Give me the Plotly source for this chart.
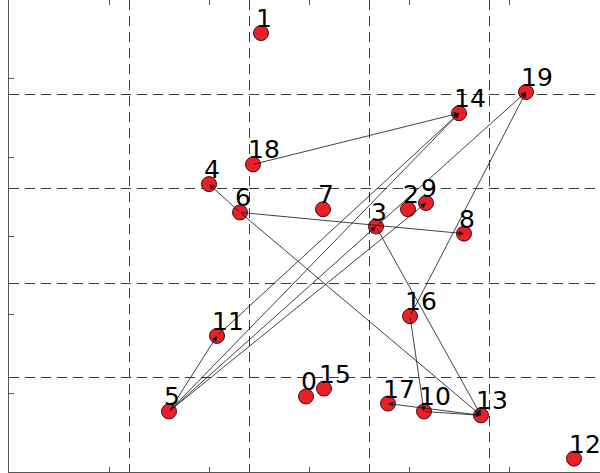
import plotly.graph_objects as go

# Node positions (id -> x, y)
node_ids = list(range(20))
node_x = [2.97, 2.52, 3.99, 3.67, 2.00, 1.60, 2.31, 3.14, 4.55, 4.17,
          4.15, 2.08, 5.65, 4.72, 4.50, 3.15, 4.01, 3.79, 2.44, 5.17]
node_y = [0.96, 5.58, 3.34, 3.12, 3.66, 0.77, 3.30, 3.34, 3.03, 3.42,
          0.77, 1.73, 0.17, 0.72, 4.56, 1.06, 1.98, 0.87, 3.91, 4.83]

# Directed edges (source -> target)
edge_src = [18, 6, 6, 6, 3, 5, 11, 5, 5, 3, 5, 16, 16, 10, 13]
edge_dst = [14, 4, 8, 13, 13, 11, 14, 14, 3, 19, 9, 19, 10, 13, 17]

# Axis ticks and the coarser dashed grid
tick_vals = [0, 1, 2, 3, 4, 5, 6]
grid_step = 1.2
x_range = [0, 5.91]
y_range = [0, 6]

AXIS_COLOR = "#555555"
GRID_COLOR = "#3c3c3c"
NODE_COLOR = "#ea1f27"
EDGE_COLOR = "#111111"

fig = go.Figure()

fig.add_trace(go.Scatter(
    x=node_x, y=node_y, mode="markers",
    xaxis="x2", yaxis="y",
    marker=dict(size=15, color=NODE_COLOR, line=dict(color="#3a1010", width=1)),
    hoverinfo="skip", showlegend=False,
))

annotations = []
# Edges drawn as arrows in data coordinates
for s, d in zip(edge_src, edge_dst):
    annotations.append(dict(
        x=node_x[d], y=node_y[d], xref="x", yref="y",
        ax=node_x[s], ay=node_y[s], axref="x", ayref="y",
        text="", showarrow=True, arrowhead=2, arrowsize=1.3,
        arrowwidth=0.8, arrowcolor=EDGE_COLOR, standoff=0, startstandoff=0,
    ))
# Node labels
for i, x, y in zip(node_ids, node_x, node_y):
    annotations.append(dict(
        x=x, y=y, xref="x", yref="y", text=str(i), showarrow=False,
        xanchor="left", yanchor="bottom", xshift=-6, yshift=-1, borderpad=0,
        font=dict(family="DejaVu Sans", size=25, color="black"),
    ))

grid_minor = dict(tick0=0, dtick=grid_step, ticks="", showgrid=True,
                  gridcolor=GRID_COLOR, gridwidth=1, griddash="10px,6px")

fig.update_layout(
    width=600, height=473,
    margin=dict(l=9, r=0, t=0, b=1, pad=0),
    paper_bgcolor="white", plot_bgcolor="white",
    showlegend=False,
    xaxis=dict(range=x_range, tickvals=tick_vals, ticks="inside", ticklen=5,
               tickcolor=AXIS_COLOR, showline=True, linecolor=AXIS_COLOR,
               linewidth=1, showticklabels=False, showgrid=False,
               zeroline=False, minor=grid_minor),
    xaxis2=dict(range=x_range, overlaying="x", side="top", tickvals=tick_vals,
                ticks="inside", ticklen=5, tickcolor=AXIS_COLOR, showline=False,
                showticklabels=False, showgrid=False, zeroline=False),
    yaxis=dict(range=y_range, tickvals=tick_vals, ticks="inside", ticklen=5,
               tickcolor=AXIS_COLOR, showline=True, linecolor=AXIS_COLOR,
               linewidth=1, showticklabels=False, showgrid=False,
               zeroline=False, minor=grid_minor),
    annotations=annotations,
)

fig.write_html("out.html")
